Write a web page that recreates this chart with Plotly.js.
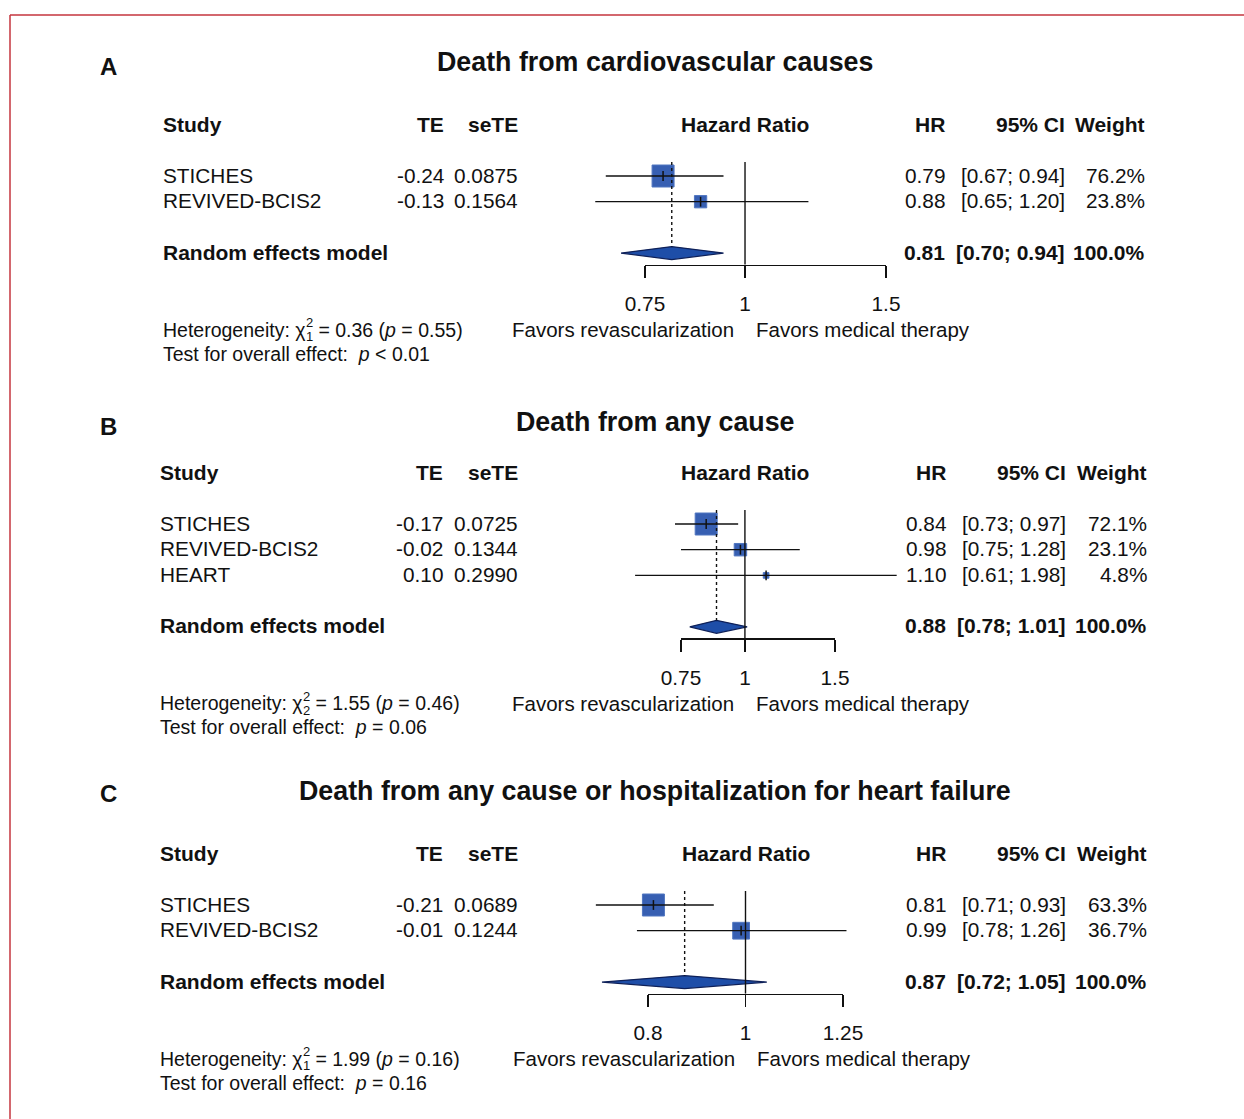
<!DOCTYPE html>
<html><head><meta charset="utf-8">
<script src="https://cdn.plot.ly/plotly-3.0.1.min.js"></script>
<style>html,body{margin:0;padding:0;background:#fff}#chart{width:1244px;height:1119px}</style>
</head><body><div id="chart"></div>
<script>
// ---------------- data ----------------
const titles = ['Death from cardiovascular causes', 'Death from any cause', 'Death from any cause or hospitalization for heart failure'];
const panelLetters = ['A', 'B', 'C'];
const headers = ['Study', 'TE', 'seTE', 'Hazard Ratio', 'HR', '95% CI', 'Weight'];
const modelLabel = 'Random effects model';
const favorLabels = ['Favors revascularization', 'Favors medical therapy'];

const studiesA = ['STICHES', 'REVIVED-BCIS2'];
const teA = [-0.24, -0.13];
const seteA = [0.0875, 0.1564];
const hrA = [0.79, 0.88];
const lowerA = [0.67, 0.65];
const upperA = [0.94, 1.20];
const weightA = [76.2, 23.8];
const pooledA = [0.81, 0.70, 0.94];     // HR, lower, upper
const ticksA = [0.75, 1, 1.5];
const hetA = ['0.36', '1', '0.55'];       // chi2, df, p
const overallA = '&lt; 0.01';

const studiesB = ['STICHES', 'REVIVED-BCIS2', 'HEART'];
const teB = [-0.17, -0.02, 0.10];
const seteB = [0.0725, 0.1344, 0.2990];
const hrB = [0.84, 0.98, 1.10];
const lowerB = [0.73, 0.75, 0.61];
const upperB = [0.97, 1.28, 1.98];
const weightB = [72.1, 23.1, 4.8];
const pooledB = [0.88, 0.78, 1.01];
const ticksB = [0.75, 1, 1.5];
const hetB = ['1.55', '2', '0.46'];
const overallB = '= 0.06';

const studiesC = ['STICHES', 'REVIVED-BCIS2'];
const teC = [-0.21, -0.01];
const seteC = [0.0689, 0.1244];
const hrC = [0.81, 0.99];
const lowerC = [0.71, 0.78];
const upperC = [0.93, 1.26];
const weightC = [63.3, 36.7];
const pooledC = [0.87, 0.72, 1.05];
const ticksC = [0.8, 1, 1.25];
const hetC = ['1.99', '1', '0.16'];
const overallC = '= 0.16';

// ---------------- layout constants (pixels) ----------------
const W = 1244, H = 1119;
const FONT = '"Liberation Sans", Arial, Helvetica, sans-serif';
const BODY = 20.8, HEAD = 21, HETF = 19.5, TITLEF = 26.8, FAVF = 20.5;
const panels = [
  {studies: studiesA, te: teA, sete: seteA, hr: hrA, lo: lowerA, hi: upperA, w: weightA, pooled: pooledA, ticks: ticksA, het: hetA, overall: overallA},
  {studies: studiesB, te: teB, sete: seteB, hr: hrB, lo: lowerB, hi: upperB, w: weightB, pooled: pooledB, ticks: ticksB, het: hetB, overall: overallB},
  {studies: studiesC, te: teC, sete: seteC, hr: hrC, lo: lowerC, hi: upperC, w: weightC, pooled: pooledC, ticks: ticksC, het: hetC, overall: overallC}
];
const pos = [
  {letterY: 67, titleY: 63, headerY: 125, left: 162, teR: 445, seR: 519, hrR: 946, ciR: 1066, wR: 1146, tickPx: [645, 886]},
  {letterY: 427, titleY: 423, headerY: 473, left: 159, teR: 444, seR: 519, hrR: 947, ciR: 1067, wR: 1148, tickPx: [681, 835]},
  {letterY: 794, titleY: 792, headerY: 854, left: 159, teR: 444, seR: 519, hrR: 947, ciR: 1067, wR: 1148, tickPx: [648, 843]}
];
const ROW = 25.7, FIRST = 51, MAXBOX = 22, DH = 6.5, TY = -1;
const SQ_FILL = 'rgb(55,95,178)', SQ_LINE = 'rgb(80,118,192)';
const DI_FILL = 'rgb(30,78,168)', DI_LINE = 'rgb(14,32,88)';
const INK = '#111';

const canvas = document.createElement('canvas');
const ctx = canvas.getContext('2d');
function textW(s, size) { ctx.font = size + 'px ' + FONT; return ctx.measureText(s).width; }

const traces = [], annotations = [];
const layout = {
  width: W, height: H, margin: {l: 0, r: 0, t: 0, b: 0},
  paper_bgcolor: '#fff', plot_bgcolor: 'rgba(0,0,0,0)', showlegend: false,
  font: {family: FONT, color: INK, size: BODY},
  yaxis: {domain: [0, 1], range: [H, 0], visible: false, fixedrange: true},
  shapes: [
    {type: 'line', xref: 'paper', yref: 'paper', x0: 10 / W, x1: 10 / W, y0: 1 - 15 / H, y1: 0, line: {color: 'rgb(196,52,62)', width: 1.5}},
    {type: 'line', xref: 'paper', yref: 'paper', x0: 10 / W, x1: 1, y0: 1 - 15 / H, y1: 1 - 15 / H, line: {color: 'rgb(196,52,62)', width: 1.5}}
  ],
  annotations: annotations
};

function ann(text, px, y, anchor, size, extra) {
  annotations.push(Object.assign({
    text: text, x: px / W, xref: 'paper', y: y + TY, yref: 'y', xanchor: anchor, yanchor: 'middle',
    showarrow: false, font: {size: size, color: INK, family: FONT}, borderpad: 0
  }, extra || {}));
}

panels.forEach((d, i) => {
  const p = pos[i];
  const xa = i === 0 ? 'x' : 'x' + (i + 1);
  const xaKey = i === 0 ? 'xaxis' : 'xaxis' + (i + 1);
  const ta = 'x' + (i + 4), taKey = 'xaxis' + (i + 4);
  const t0 = d.ticks[0], t1 = d.ticks[d.ticks.length - 1];
  const k = (p.tickPx[1] - p.tickPx[0]) / (Math.log10(t1) - Math.log10(t0));
  const px1 = p.tickPx[0] + k * (0 - Math.log10(t0));
  layout[xaKey] = {domain: [0, 1], type: 'log', visible: false, fixedrange: true,
    range: [Math.log10(t0) - p.tickPx[0] / k, Math.log10(t0) + (W - p.tickPx[0]) / k]};
  const n = d.studies.length;
  const rowY = d.studies.map((s, j) => p.headerY + FIRST + j * ROW);
  const modelY = p.headerY + FIRST + (n + 1) * ROW;
  const axisY = modelY + 11.5;
  const refTop = p.headerY + 37;
  const eps = 1e-9;
  layout[taKey] = {domain: [p.tickPx[0] / W, p.tickPx[1] / W], anchor: 'free', position: 1 - axisY / H,
    type: 'log', range: [Math.log10(t0) - eps, Math.log10(t1) + eps], fixedrange: true,
    tickmode: 'array', tickvals: d.ticks, ticktext: d.ticks.map(String),
    showline: true, linecolor: INK, linewidth: 1.4, ticks: 'outside', ticklen: 12, tickwidth: 1.4, tickcolor: INK,
    showgrid: false, zeroline: false, tickfont: {size: BODY, color: INK, family: FONT}, ticklabelstandoff: 8};
  traces.push({x: [1], y: [axisY], xaxis: ta, yaxis: 'y', mode: 'markers', marker: {opacity: 0}, hoverinfo: 'skip'});

  const maxW = Math.max.apply(null, d.w);
  // squares
  traces.push({x: d.hr, y: rowY, xaxis: xa, yaxis: 'y', mode: 'markers', hoverinfo: 'skip', opacity: 1,
    marker: {symbol: 'square', opacity: 1, size: d.w.map(v => MAXBOX * Math.sqrt(v / maxW)), color: SQ_FILL, line: {color: SQ_LINE, width: 1}}});
  // CI lines
  const cx = [], cy = [];
  d.lo.forEach((lo, j) => { cx.push(lo, d.hi[j], null); cy.push(rowY[j], rowY[j], null); });
  traces.push({x: cx, y: cy, xaxis: xa, yaxis: 'y', mode: 'lines', hoverinfo: 'skip', line: {color: INK, width: 1.3}});
  // estimate ticks
  traces.push({x: d.hr, y: rowY, xaxis: xa, yaxis: 'y', mode: 'markers', hoverinfo: 'skip',
    marker: {symbol: 'line-ns', size: 7, opacity: 1, line: {color: INK, width: 1.5}}});
  // diamond
  const [pe, pl, ph] = d.pooled;
  traces.push({x: [pl, pe, ph, pe, pl], y: [modelY, modelY - DH, modelY, modelY + DH, modelY], xaxis: xa, yaxis: 'y',
    mode: 'lines', fill: 'toself', fillcolor: DI_FILL, line: {color: DI_LINE, width: 1.2}, hoverinfo: 'skip'});
  // dotted pooled line
  traces.push({x: [pe, pe], y: [refTop, modelY - DH], xaxis: xa, yaxis: 'y', mode: 'lines', hoverinfo: 'skip',
    line: {color: INK, width: 1.4, dash: 'dot'}});
  // reference line at 1
  traces.push({x: [1, 1], y: [refTop, axisY], xaxis: xa, yaxis: 'y', mode: 'lines', hoverinfo: 'skip',
    line: {color: INK, width: 1.4}});

  // text
  ann('<b>' + panelLetters[i] + '</b>', 108, p.letterY, 'center', 24);
  ann('<b>' + titles[i] + '</b>', 655, p.titleY, 'center', TITLEF);
  const hy = p.headerY;
  ann('<b>' + headers[0] + '</b>', p.left, hy, 'left', HEAD);
  ann('<b>' + headers[1] + '</b>', p.teR, hy, 'right', HEAD);
  ann('<b>' + headers[2] + '</b>', p.seR, hy, 'right', HEAD);
  ann('<b>' + headers[3] + '</b>', px1, hy, 'center', HEAD);
  ann('<b>' + headers[4] + '</b>', p.hrR, hy, 'right', HEAD);
  ann('<b>' + headers[5] + '</b>', p.ciR, hy, 'right', HEAD);
  ann('<b>' + headers[6] + '</b>', p.wR, hy, 'right', HEAD);
  d.studies.forEach((s, j) => {
    const y = rowY[j];
    ann(s, p.left, y, 'left', BODY);
    ann(d.te[j].toFixed(2), p.teR, y, 'right', BODY);
    ann(d.sete[j].toFixed(4), p.seR, y, 'right', BODY);
    ann(d.hr[j].toFixed(2), p.hrR, y, 'right', BODY);
    ann('[' + d.lo[j].toFixed(2) + '; ' + d.hi[j].toFixed(2) + ']', p.ciR, y, 'right', BODY);
    ann(d.w[j].toFixed(1) + '%', p.wR, y, 'right', BODY);
  });
  const totalW = d.w.reduce((a, b) => a + b, 0);
  ann('<b>' + modelLabel + '</b>', p.left, modelY, 'left', HEAD);
  ann('<b>' + pe.toFixed(2) + '</b>', p.hrR, modelY, 'right', HEAD);
  ann('<b>[' + pl.toFixed(2) + '; ' + ph.toFixed(2) + ']</b>', p.ciR, modelY, 'right', HEAD);
  ann('<b>' + totalW.toFixed(1) + '%</b>', p.wR, modelY, 'right', HEAD);

  const favY = axisY + 66;
  ann(favorLabels[0], px1 - 10, favY, 'right', FAVF);
  ann(favorLabels[1], px1 + 10, favY, 'left', FAVF);

  const part1 = 'Heterogeneity: \u03C7';
  const w1 = textW(part1, HETF);
  ann(part1, p.left, favY, 'left', HETF);
  ann(d.het[1], p.left + w1 + 1, favY + 7, 'left', 13);
  ann('2', p.left + w1 + 1, favY - 7, 'left', 13);
  ann(' = ' + d.het[0] + ' (<i>p</i> = ' + d.het[2] + ')', p.left + w1 + 8, favY, 'left', HETF);
  ann('Test for overall effect:  <i>p</i> ' + d.overall, p.left, favY + 24, 'left', HETF);
});

layout.annotations = annotations;
Plotly.newPlot('chart', traces, layout, {displayModeBar: false, staticPlot: true});
</script>
</body></html>
